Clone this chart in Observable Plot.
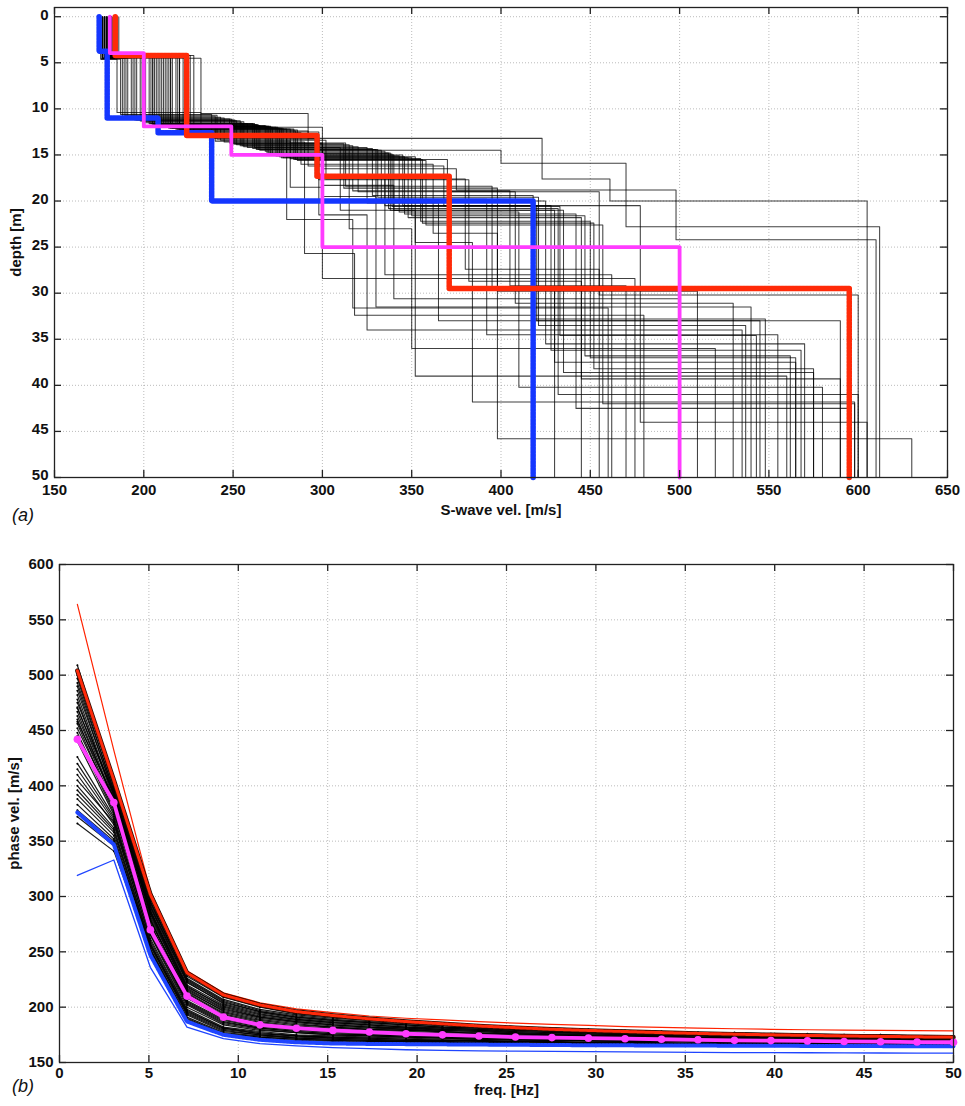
<!DOCTYPE html>
<html>
<head>
<meta charset="utf-8">
<script src="https://cdn.jsdelivr.net/npm/d3@7"></script>
<script src="https://cdn.jsdelivr.net/npm/@observablehq/plot@0.6"></script>
<style>
  body { margin: 0; background: #fff; font-family: "Liberation Sans", Arial, sans-serif; }
  #wrap { position: relative; width: 965px; height: 1106px; overflow: hidden; }
  .tag { position: absolute; font-style: italic; font-size: 18px; line-height: 18px; color: #111; }
  svg { display: block; }
</style>
</head>
<body>
<div id="wrap">
  <div id="panelA"></div>
  <div id="panelB"></div>
  <span class="tag" style="left:12px; top:506px;">(a)</span>
  <span class="tag" style="left:12px; top:1077px;">(b)</span>
</div>
<script>
// ---------------- Panel (a): S-wave velocity profiles ----------------
const velTicks = [150, 200, 250, 300, 350, 400, 450, 500, 550, 600, 650];
const depthTicks = [0, 5, 10, 15, 20, 25, 30, 35, 40, 45, 50];
const depthBottom = 50;

// layer velocities (m/s), 6 layers each
const profileVs = [
  [180, 205, 262, 310, 352, 560],
  [178, 195, 250, 300, 330, 540],
  [182, 215, 275, 345, 420, 590],
  [177, 188, 240, 282, 300, 475],
  [184, 222, 285, 370, 455, 600],
  [179, 200, 255, 298, 325, 535],
  [181, 210, 270, 338, 430, 565],
  [176, 185, 232, 280, 317, 460],
  [183, 218, 280, 352, 384, 598],
  [178, 198, 252, 315, 350, 520],
  [180, 208, 265, 333, 425, 570],
  [185, 228, 298, 400, 470, 612],
  [177, 190, 245, 290, 318, 480],
  [182, 212, 272, 340, 435, 575],
  [179, 203, 258, 325, 365, 545],
  [181, 207, 268, 335, 428, 568],
  [184, 225, 288, 362, 398, 630],
  [178, 193, 248, 300, 340, 500],
  [180, 206, 264, 330, 392, 555],
  [183, 216, 278, 348, 445, 590],
  [176, 187, 238, 296, 335, 462],
  [182, 213, 274, 343, 410, 580],
  [179, 201, 256, 320, 408, 530],
  [181, 209, 269, 337, 432, 600],
  [185, 226, 292, 368, 478, 605],
  [177, 191, 243, 302, 380, 455],
  [180, 204, 261, 328, 418, 548],
  [183, 219, 282, 355, 450, 565],
  [178, 196, 251, 312, 398, 510],
  [182, 214, 276, 346, 442, 595],
  [179, 199, 254, 317, 405, 470],
  [181, 211, 271, 339, 433, 543],
  [184, 223, 286, 358, 457, 598],
  [177, 189, 241, 298, 382, 445],
  [180, 205, 263, 331, 421, 537],
  [183, 220, 284, 356, 452, 575],
  [178, 194, 249, 313, 395, 430],
  [182, 215, 277, 350, 447, 562],
  [181, 232, 292, 423, 461, 605],
  [186, 220, 300, 375, 498, 610]
];
// layer interface depths (m), 5 interfaces each
const profileDepths = [
  [4.3, 11.6, 14.2, 21.0, 39.0],
  [4.4, 11.2, 13.8, 19.5, 31.5],
  [4.2, 12.0, 15.0, 20.5, 33.0],
  [4.5, 10.8, 13.5, 18.5, 28.4],
  [4.3, 12.4, 15.5, 19.0, 30.2],
  [4.4, 11.5, 14.0, 21.5, 34.0],
  [4.2, 11.9, 14.8, 21.0, 37.5],
  [4.6, 10.4, 13.0, 22.0, 31.6],
  [4.3, 12.2, 15.2, 24.5, 41.8],
  [4.4, 11.3, 13.9, 23.0, 36.0],
  [4.3, 11.8, 14.5, 20.0, 35.5],
  [4.2, 12.5, 14.5, 15.9, 22.8],
  [4.5, 11.0, 13.6, 25.7, 32.4],
  [4.3, 12.0, 15.0, 21.0, 38.6],
  [4.4, 11.6, 14.2, 20.2, 33.0],
  [4.3, 11.8, 14.6, 20.5, 36.2],
  [4.2, 12.6, 16.0, 23.5, 45.8],
  [4.5, 11.1, 13.7, 18.3, 30.6],
  [4.3, 11.7, 14.4, 19.8, 34.5],
  [4.2, 12.1, 15.3, 21.8, 39.3],
  [4.6, 10.6, 13.2, 17.4, 28.0],
  [4.3, 12.0, 15.1, 21.2, 40.2],
  [4.4, 11.4, 14.1, 19.0, 31.1],
  [4.3, 11.9, 14.8, 20.8, 41.0],
  [4.2, 12.4, 16.2, 20.5, 44.0],
  [4.5, 10.9, 13.4, 17.6, 27.4],
  [4.3, 11.6, 14.3, 19.4, 32.8],
  [4.2, 12.2, 15.4, 22.2, 37.0],
  [4.4, 11.2, 13.8, 18.6, 29.8],
  [4.3, 12.1, 15.2, 21.4, 42.5],
  [4.4, 11.3, 14.0, 18.9, 29.2],
  [4.3, 11.9, 14.9, 20.6, 34.6],
  [4.2, 12.3, 15.6, 22.6, 42.0],
  [4.5, 10.7, 13.3, 17.7, 28.7],
  [4.3, 11.7, 14.4, 19.6, 33.5],
  [4.2, 12.2, 15.5, 22.4, 38.2],
  [4.4, 11.1, 13.7, 18.4, 29.5],
  [4.3, 12.1, 15.3, 21.6, 36.8],
  [4.5, 10.5, 13.2, 17.6, 20.0],
  [4.4, 12.0, 16.5, 18.8, 24.2]
];

const redVs = [184, 224, 297, 371, 595];
const redDepths = [4.2, 12.9, 17.3, 29.5];
const blueVs = [175, 179.5, 208, 238, 418];
const blueDepths = [3.75, 11.0, 12.6, 20.0];
const magentaVs = [181, 200, 249, 300, 500];
const magentaDepths = [3.95, 11.9, 15.0, 25.0];

// ---------------- Panel (b): dispersion curves ----------------
const freqTicks = [0, 5, 10, 15, 20, 25, 30, 35, 40, 45, 50];
const phaseTicks = [150, 200, 250, 300, 350, 400, 450, 500, 550, 600];
const freqs = [1, 3.04, 5.08, 7.13, 9.17, 11.21, 13.25, 15.29, 17.33, 19.38, 21.42, 23.46, 25.5,
               27.54, 29.58, 31.63, 33.67, 35.71, 37.75, 39.79, 41.83, 43.88, 45.92, 47.96, 50];

const blackCurves = [
  [509,402,298,228,209,200,194,191,189,187,185,183,182,181,180,179,178,177,177,176,176,175,175,174,174],
  [505,398,295,226,207,198,193,190,188,186,184,183,181,180,179,178,178,177,176,176,175,175,175,174,174],
  [500,400,296,225,206,197,192,189,187,185,183,182,180,179,178,177,177,176,175,175,174,174,174,173,173],
  [497,395,292,222,204,196,191,188,186,184,182,181,180,179,178,177,176,176,175,175,174,174,174,173,173],
  [493,396,294,224,205,196,191,188,186,184,182,181,179,178,177,176,176,175,174,174,173,173,173,172,172],
  [490,392,290,220,202,194,189,186,184,182,181,180,178,177,177,176,175,175,174,174,173,173,173,172,172],
  [486,394,288,218,201,193,189,186,184,182,180,179,178,177,176,175,174,174,173,173,172,172,172,171,171],
  [482,390,287,219,200,192,188,185,183,181,180,179,177,176,176,175,174,174,173,173,172,172,172,171,171],
  [478,388,285,216,198,191,187,184,182,181,179,178,177,176,175,175,174,173,173,173,172,172,172,171,171],
  [475,392,284,214,197,190,186,183,181,180,178,177,176,175,174,174,173,172,172,172,171,171,171,170,170],
  [471,386,282,215,196,189,185,182,180,179,178,176,176,175,174,173,173,172,172,171,171,171,170,170,170],
  [467,384,280,212,194,187,183,181,179,178,177,176,175,174,174,173,173,172,172,171,171,171,170,170,170],
  [463,387,279,210,193,186,182,180,178,177,176,175,174,173,173,172,172,171,171,170,170,170,169,169,169],
  [460,382,276,208,191,185,181,179,178,176,175,174,174,173,172,172,171,171,170,170,170,170,169,169,169],
  [456,380,275,209,190,184,180,178,177,176,175,174,173,173,172,172,171,171,170,170,170,170,169,169,169],
  [452,383,273,206,189,183,180,178,177,175,174,173,173,172,171,171,170,170,169,169,169,169,168,168,168],
  [448,378,272,205,188,182,179,177,176,175,174,173,172,172,171,171,170,170,169,169,169,169,168,168,168],
  [445,376,270,203,186,181,178,176,175,174,173,172,172,171,171,170,170,170,169,169,169,168,168,168,168],
  [426,372,268,204,187,181,178,176,175,174,173,172,171,171,170,170,169,169,168,168,168,168,167,167,167],
  [420,370,265,200,184,179,177,175,174,173,172,171,171,170,170,169,169,169,168,168,168,167,167,167,167],
  [415,368,266,202,185,180,177,175,174,173,172,171,171,170,170,169,169,169,168,168,168,167,167,167,167],
  [410,365,262,198,182,178,175,174,173,172,171,171,170,170,169,169,169,168,168,168,168,167,167,167,167],
  [405,367,260,197,181,177,174,173,172,171,170,170,169,169,168,168,168,167,167,167,167,166,166,166,166],
  [400,362,258,195,180,176,174,173,172,171,170,170,169,169,168,168,168,167,167,167,167,166,166,166,166],
  [396,360,257,196,181,176,174,172,171,170,170,169,169,168,168,168,167,167,167,167,167,166,166,166,166],
  [392,358,255,193,178,175,173,172,171,170,170,169,169,168,168,168,167,167,167,167,167,166,166,166,166],
  [388,355,253,191,177,174,172,171,170,169,169,168,168,167,167,167,166,166,166,166,166,165,165,165,165],
  [383,352,256,194,179,175,172,171,170,169,169,168,168,167,167,167,166,166,166,166,166,165,165,165,165],
  [378,350,252,190,176,173,171,170,169,169,168,168,167,167,167,166,166,166,166,166,165,165,165,165,165],
  [372,346,250,189,176,173,171,170,169,169,168,168,167,167,167,166,166,166,166,166,165,165,165,165,165],
  [366,341,251,188,175,172,170,169,168,168,167,167,166,166,166,165,165,165,165,165,164,164,164,164,164],
  [470,393,291,223,203,195,190,187,185,183,181,180,179,178,177,176,175,175,174,174,173,173,173,172,172],
  [458,389,286,217,199,191,187,184,182,180,179,178,176,175,175,174,173,173,172,172,171,171,171,170,170],
  [440,374,278,213,195,188,184,182,180,179,178,176,176,175,174,173,173,172,172,171,171,171,170,170,170]
];
const magentaCurve = [442,385,270,210,191,184,181,179,177.5,176,175,174,173,172.5,172,171.5,171,170.5,170,169.8,169.5,169,168.8,168.5,168.3];
const redDottedCurve = [504,405,302,231,211,202,196,192.5,189.5,187,185,183,181.5,180,179,178,177,176.3,175.6,175,174.5,174,173.6,173.2,172.9];
const redThinCurve = [564,432,305,233,213,204,198.5,195,192,190,188.5,187,185.5,184.5,183.5,182.5,181.8,181,180.5,180,179.6,179.3,179,178.8,178.6];
const blueDottedCurve = [376,347,247,187,175,170.5,168.3,167.2,166.8,166.6,166.4,166.2,166,165.8,165.6,165.5,165.4,165.3,165.2,165.1,165,164.9,164.8,164.7,164.7];
const blueThinCurve = [319,333,236,182,171.5,167,165,163.5,162.5,161.5,161,160.5,160.2,160,159.8,159.6,159.4,159.2,159,158.9,158.8,158.7,158.6,158.5,158.4];

// ---------------- helpers ----------------
function stepRows(vs, ds, id) {
  const rows = [{id, v: vs[0], d: 0}];
  for (let i = 0; i < ds.length; i++) {
    rows.push({id, v: vs[i], d: ds[i]});
    rows.push({id, v: vs[i + 1], d: ds[i]});
  }
  rows.push({id, v: vs[vs.length - 1], d: depthBottom});
  return rows;
}
function curveRows(vals, id) {
  return vals.map((v, j) => ({id, f: freqs[j], v}));
}

const blackProfileRows = profileVs.flatMap((vs, i) => stepRows(vs, profileDepths[i], i));
const redProfileRows = stepRows(redVs, redDepths, "red");
const blueProfileRows = stepRows(blueVs, blueDepths, "blue");
const magentaProfileRows = stepRows(magentaVs, magentaDepths, "magenta");

const blackCurveRows = blackCurves.flatMap((c, i) => curveRows(c, i));

const FONT = "'Liberation Sans', Arial, Helvetica, sans-serif";
const W = 965;
const tickLen = 7;
const gridStyle = {stroke: "#7a7a7a", strokeOpacity: 0.5, strokeDasharray: "1,2", strokeWidth: 1};

// ---- Panel A ----
const HA = 530, mTA = 7, mBA = 53, mLA = 54, mRA = 18;
const pHA = HA - mTA - mBA, pWA = W - mLA - mRA;

const plotA = Plot.plot({
  width: W, height: HA,
  marginTop: mTA, marginBottom: mBA, marginLeft: mLA, marginRight: mRA,
  style: {fontFamily: FONT, fontSize: "15px", fontWeight: "bold", background: "white", color: "#111"},
  x: {domain: [150, 650]},
  y: {domain: [-1, 50], reverse: true},
  marks: [
    Plot.gridX(velTicks.slice(1, -1), gridStyle),
    Plot.gridY(depthTicks.slice(0, -1), gridStyle),
    Plot.line(blackProfileRows, {x: "v", y: "d", z: "id", stroke: "#000", strokeWidth: 1.05, strokeOpacity: 0.75}),
    Plot.line(blueProfileRows, {x: "v", y: "d", stroke: "#1436ff", strokeWidth: 5.5, strokeDasharray: "2.2,1.3"}),
    Plot.line(redProfileRows, {x: "v", y: "d", stroke: "#ff2a08", strokeWidth: 5.5, strokeDasharray: "2.2,1.3"}),
    Plot.line(magentaProfileRows, {x: "v", y: "d", stroke: "#ff3cff", strokeWidth: 3.8}),
    Plot.frame({stroke: "#222", strokeWidth: 1.3}),
    Plot.tickX(velTicks, {x: d => d, insetBottom: pHA - tickLen, stroke: "#222", strokeWidth: 1.3}),
    Plot.tickX(velTicks, {x: d => d, insetTop: pHA - tickLen, stroke: "#222", strokeWidth: 1.3}),
    Plot.tickY(depthTicks, {y: d => d, insetRight: pWA - tickLen, stroke: "#222", strokeWidth: 1.3}),
    Plot.tickY(depthTicks, {y: d => d, insetLeft: pWA - tickLen, stroke: "#222", strokeWidth: 1.3}),
    Plot.axisX(velTicks, {anchor: "bottom", tickSize: 0, tickPadding: 7, label: "S-wave vel. [m/s]", labelAnchor: "center", labelArrow: "none", labelOffset: 37}),
    Plot.axisY(depthTicks, {anchor: "left", tickSize: 0, tickPadding: 6, dy: -2, label: "depth [m]", labelAnchor: "center", labelArrow: "none", labelOffset: 44})
  ]
});
document.getElementById("panelA").appendChild(plotA);

// ---- Panel B ----
const HB = 576, mTB = 34, mBB = 44, mLB = 59, mRB = 12;
const pHB = HB - mTB - mBB, pWB = W - mLB - mRB;

const plotB = Plot.plot({
  width: W, height: HB,
  marginTop: mTB, marginBottom: mBB, marginLeft: mLB, marginRight: mRB,
  style: {fontFamily: FONT, fontSize: "15px", fontWeight: "bold", background: "white", color: "#111", overflow: "visible"},
  x: {domain: [0, 50]},
  y: {domain: [150, 600]},
  marks: [
    Plot.gridX(freqTicks.slice(1, -1), gridStyle),
    Plot.gridY(phaseTicks.slice(1, -1), gridStyle),
    Plot.line(blackCurveRows, {x: "f", y: "v", z: "id", stroke: "#000", strokeWidth: 1.2, strokeOpacity: 0.9}),
    Plot.dot(blackCurveRows, {x: "f", y: "v", r: 1, fill: "#000", stroke: "none"}),
    Plot.line(curveRows(redThinCurve, "rt"), {x: "f", y: "v", stroke: "#ff2200", strokeWidth: 1.2}),
    Plot.line(curveRows(blueThinCurve, "bt"), {x: "f", y: "v", stroke: "#1f45ff", strokeWidth: 1.3}),
    Plot.line(curveRows(redDottedCurve, "rd"), {x: "f", y: "v", stroke: "#2a0a00", strokeWidth: 4.5}),
    Plot.line(curveRows(redDottedCurve, "rd"), {x: "f", y: "v", stroke: "#ff2a0a", strokeWidth: 3, strokeDasharray: "2.2,1"}),
    Plot.line(curveRows(blueDottedCurve, "bd"), {x: "f", y: "v", stroke: "#1f45ff", strokeWidth: 4, strokeDasharray: "2.4,1.2"}),
    Plot.line(curveRows(magentaCurve, "m"), {x: "f", y: "v", stroke: "#ff3cff", strokeWidth: 3.8}),
    Plot.dot(curveRows(magentaCurve, "m"), {x: "f", y: "v", r: 3.8, fill: "#ff3cff", stroke: "none"}),
    Plot.frame({stroke: "#222", strokeWidth: 1.3}),
    Plot.tickX(freqTicks, {x: d => d, insetBottom: pHB - tickLen, stroke: "#222", strokeWidth: 1.3}),
    Plot.tickX(freqTicks, {x: d => d, insetTop: pHB - tickLen, stroke: "#222", strokeWidth: 1.3}),
    Plot.tickY(phaseTicks, {y: d => d, insetRight: pWB - tickLen, stroke: "#222", strokeWidth: 1.3}),
    Plot.tickY(phaseTicks, {y: d => d, insetLeft: pWB - tickLen, stroke: "#222", strokeWidth: 1.3}),
    Plot.axisX(freqTicks, {anchor: "bottom", tickSize: 0, tickPadding: 5, label: "freq. [Hz]", labelAnchor: "center", labelArrow: "none", labelOffset: 32}),
    Plot.axisY(phaseTicks, {anchor: "left", tickSize: 0, tickPadding: 6, label: "phase vel. [m/s]", labelAnchor: "center", labelArrow: "none", labelOffset: 51})
  ]
});
document.getElementById("panelB").appendChild(plotB);
</script>
</body>
</html>
